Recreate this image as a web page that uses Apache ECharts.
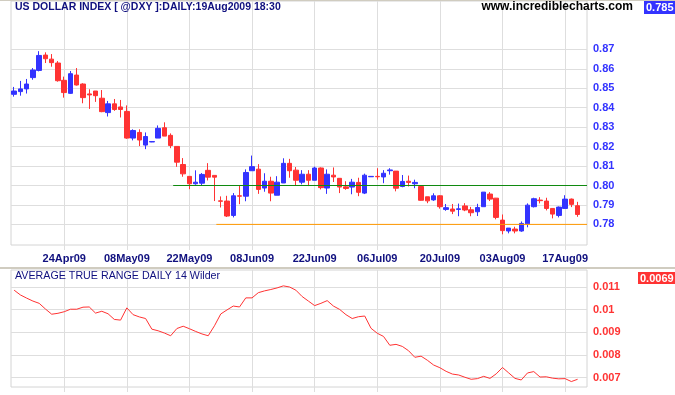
<!DOCTYPE html>
<html><head><meta charset="utf-8">
<script src="https://cdn.jsdelivr.net/npm/echarts@6/dist/echarts.min.js"></script>
<style>html,body{margin:0;padding:0;background:#fff}#c{width:675px;height:395px}</style>
</head><body><div id="c"></div>
<script>
// ---- data ----
const dates = ["14Apr09","15Apr09","16Apr09","17Apr09","20Apr09","21Apr09","22Apr09","23Apr09","24Apr09","27Apr09",
"28Apr09","29Apr09","30Apr09","01May09","04May09","05May09","06May09","07May09","08May09","11May09",
"12May09","13May09","14May09","15May09","18May09","19May09","20May09","21May09","22May09","26May09",
"27May09","28May09","29May09","01Jun09","02Jun09","03Jun09","04Jun09","05Jun09","08Jun09","09Jun09",
"10Jun09","11Jun09","12Jun09","15Jun09","16Jun09","17Jun09","18Jun09","19Jun09","22Jun09","23Jun09",
"24Jun09","25Jun09","26Jun09","29Jun09","30Jun09","01Jul09","02Jul09","03Jul09","06Jul09","07Jul09",
"08Jul09","09Jul09","10Jul09","13Jul09","14Jul09","15Jul09","16Jul09","17Jul09","20Jul09","21Jul09",
"22Jul09","23Jul09","24Jul09","27Jul09","28Jul09","29Jul09","30Jul09","31Jul09","03Aug09","04Aug09",
"05Aug09","06Aug09","07Aug09","10Aug09","11Aug09","12Aug09","13Aug09","14Aug09","17Aug09","18Aug09","19Aug09"];
const opens = [0.8469,0.8483,0.8497,0.8555,0.8592,0.8671,0.8650,0.8630,0.8541,0.8474,
0.8568,0.8522,0.8471,0.8486,0.8449,0.8375,0.8420,0.8404,0.8381,0.8244,
0.8273,0.8208,0.8224,0.8244,0.8297,0.8258,0.8201,0.8108,0.8047,0.8009,
0.8012,0.8078,0.8052,0.7921,0.7920,0.7846,0.7947,0.7945,0.8076,0.8084,
0.7987,0.8022,0.7950,0.8013,0.8114,0.8079,0.8017,0.8058,0.8027,0.8090,
0.7987,0.8053,0.8037,0.7993,0.7992,0.8016,0.7961,0.8045,0.8047,0.8044,
0.8076,0.8074,0.7995,0.8022,0.8009,0.7995,0.7942,0.7926,0.7947,0.7877,
0.7879,0.7877,0.7895,0.7875,0.7865,0.7891,0.7956,0.7935,0.7822,0.7766,
0.7776,0.7766,0.7803,0.7891,0.7925,0.7920,0.7882,0.7846,0.7882,0.7930,0.7896];
const closes = [0.8486,0.8497,0.8522,0.8594,0.8669,0.8652,0.8632,0.8539,0.8478,0.8575,
0.8517,0.8452,0.8466,0.8462,0.8380,0.8420,0.8391,0.8391,0.8244,0.8283,
0.8234,0.8252,0.8226,0.8294,0.8254,0.8206,0.8120,0.8060,0.8009,0.8017,
0.8057,0.8043,0.8043,0.7919,0.7843,0.7947,0.7945,0.8067,0.8097,0.7980,
0.8022,0.7961,0.8017,0.8114,0.8076,0.8027,0.8058,0.8027,0.8090,0.7989,
0.8058,0.8044,0.7992,0.7985,0.8017,0.7965,0.8053,0.8047,0.8045,0.8063,
0.8080,0.7986,0.8021,0.8016,0.8016,0.7924,0.7921,0.7947,0.7891,0.7886,
0.7868,0.7880,0.7874,0.7860,0.7887,0.7966,0.7930,0.7836,0.7768,0.7781,
0.7766,0.7805,0.7899,0.7932,0.7922,0.7882,0.7853,0.7889,0.7930,0.7903,0.7851];
const lows = [0.8457,0.8462,0.8473,0.8544,0.8587,0.8630,0.8611,0.8534,0.8452,0.8471,
0.8514,0.8423,0.8394,0.8430,0.8377,0.8355,0.8384,0.8350,0.8240,0.8232,
0.8203,0.8187,0.8223,0.8244,0.8254,0.8192,0.8096,0.8045,0.7981,0.8004,
0.7999,0.8026,0.7920,0.7887,0.7838,0.7836,0.7904,0.7919,0.8076,0.7957,
0.7968,0.7919,0.7950,0.8013,0.8040,0.7999,0.8006,0.7997,0.8027,0.7980,
0.7957,0.8018,0.7961,0.7978,0.7955,0.7945,0.7956,0.8044,0.8030,0.8012,
0.8056,0.7970,0.7991,0.7995,0.7986,0.7922,0.7909,0.7921,0.7881,0.7870,
0.7853,0.7842,0.7868,0.7842,0.7843,0.7891,0.7920,0.7826,0.7749,0.7754,
0.7754,0.7762,0.7785,0.7887,0.7908,0.7872,0.7831,0.7836,0.7882,0.7889,0.7839];
const highs = [0.8507,0.8538,0.8548,0.8604,0.8691,0.8685,0.8676,0.8640,0.8560,0.8589,
0.8604,0.8526,0.8495,0.8486,0.8491,0.8435,0.8445,0.8440,0.8412,0.8289,
0.8289,0.8273,0.8227,0.8309,0.8325,0.8268,0.8201,0.8141,0.8047,0.8078,
0.8064,0.8115,0.8052,0.7944,0.7947,0.7961,0.7999,0.8083,0.8154,0.8110,
0.8063,0.8045,0.8048,0.8140,0.8137,0.8095,0.8079,0.8079,0.8097,0.8093,
0.8083,0.8093,0.8037,0.8022,0.8034,0.8040,0.8061,0.8048,0.8089,0.8079,
0.8089,0.8074,0.8054,0.8051,0.8030,0.7997,0.7942,0.7960,0.7950,0.7905,
0.7905,0.7907,0.7909,0.7890,0.7906,0.7966,0.7966,0.7936,0.7851,0.7781,
0.7788,0.7815,0.7908,0.7937,0.7940,0.7937,0.7882,0.7892,0.7950,0.7933,0.7916];
const atr = [0.01086,0.01065,0.01051,0.01038,0.01028,0.01003,0.00980,0.00984,0.00991,0.01002,
0.01002,0.01011,0.01012,0.00985,0.00993,0.00982,0.00957,0.00954,0.01008,0.00978,
0.00968,0.00961,0.00914,0.00907,0.00897,0.00885,0.00917,0.00927,0.00916,0.00904,
0.00893,0.00885,0.00929,0.00981,0.00999,0.01016,0.01012,0.01052,0.01052,0.01075,
0.01083,0.01089,0.01096,0.01105,0.01100,0.01086,0.01058,0.01038,0.01018,0.01028,
0.01040,0.01016,0.01001,0.00978,0.00961,0.00969,0.00972,0.00918,0.00896,0.00882,
0.00843,0.00847,0.00838,0.00819,0.00790,0.00795,0.00777,0.00756,0.00744,0.00728,
0.00716,0.00712,0.00702,0.00693,0.00696,0.00706,0.00697,0.00717,0.00745,0.00721,
0.00697,0.00690,0.00721,0.00727,0.00703,0.00704,0.00698,0.00695,0.00696,0.00683,0.00693];
const dateLabels = ["24Apr09","08May09","22May09","08Jun09","22Jun09","06Jul09","20Jul09","03Aug09","17Aug09"];
const priceTicks = [0.78,0.79,0.80,0.81,0.82,0.83,0.84,0.85,0.86,0.87];
const atrTicks = [0.007,0.008,0.009,0.01,0.011];
const levelValues = [0.80, 0.78];
const levelStartIndex = [25.4, 32.3];

// ---- chart ----
const cats = dates.concat(['']);
const xEnd = cats.length - 0.5;
const candles = dates.map((d,i)=>[opens[i],closes[i],lows[i],highs[i]]);
const isLabel = (idx, val) => dateLabels.indexOf(val) >= 0;
const gridColor = '#dedede';
const FONT = '"Liberation Sans", Arial, sans-serif';
const BLUE = '#3333ff', RED = '#ff3333', NAVY = '#10107f';

function catAxis(gridIndex, showLabels) {
  return {
    type: 'category', gridIndex, data: cats, boundaryGap: true,
    axisLine: {show: false},
    axisTick: {show: true, interval: isLabel, alignWithLabel: true, length: 5, lineStyle: {color: gridColor}},
    splitLine: {show: true, interval: isLabel, alignWithLabel: true, lineStyle: {color: gridColor, width: 1}},
    axisLabel: {show: showLabels, interval: isLabel, margin: 8, color: NAVY, fontFamily: FONT, fontSize: 11, fontWeight: 'bold', hideOverlap: false}
  };
}

const chart = echarts.init(document.getElementById('c'), null, {renderer: 'canvas'});
chart.setOption({
  animation: false,
  backgroundColor: '#fff',
  grid: [
    {left: 11, right: 88, top: 1, height: 244, show: true, borderColor: '#d4d4d4', borderWidth: 1, backgroundColor: '#fff'},
    {left: 11, right: 88, top: 270, height: 117, show: true, borderColor: '#d4d4d4', borderWidth: 1, backgroundColor: '#fff'}
  ],
  xAxis: [
    catAxis(0, true),
    catAxis(1, false),
    {type: 'value', gridIndex: 0, min: -0.5, max: xEnd, show: false, splitLine: {show: false}}
  ],
  yAxis: [
    {type: 'value', gridIndex: 0, position: 'right', min: 0.7694, max: 0.8949, scale: true,
     axisLine: {show: false}, axisTick: {show: false, customValues: priceTicks},
     splitLine: {show: true, lineStyle: {color: gridColor}},
     axisLabel: {customValues: priceTicks, margin: 6, color: BLUE, fontFamily: FONT, fontSize: 11, fontWeight: 'bold',
       formatter: v => v.toFixed(2)}},
    {type: 'value', gridIndex: 1, position: 'right', min: 0.00659, max: 0.01175, scale: true,
     axisLine: {show: false}, axisTick: {show: false, customValues: atrTicks},
     splitLine: {show: true, lineStyle: {color: gridColor}},
     axisLabel: {customValues: atrTicks, margin: 6, color: RED, fontFamily: FONT, fontSize: 11, fontWeight: 'bold',
       formatter: v => String(+v.toFixed(4))}}
  ],
  series: [
    {type: 'candlestick', xAxisIndex: 0, yAxisIndex: 0, data: candles, barWidth: 5,
     itemStyle: {color: BLUE, color0: RED, borderColor: BLUE, borderColor0: RED, borderWidth: 1, borderColorDoji: BLUE}},
    {type: 'line', xAxisIndex: 2, yAxisIndex: 0, symbol: 'none', silent: true,
     data: [[levelStartIndex[0], levelValues[0]], [xEnd, levelValues[0]]], lineStyle: {color: '#108a10', width: 1}},
    {type: 'line', xAxisIndex: 2, yAxisIndex: 0, symbol: 'none', silent: true,
     data: [[levelStartIndex[1], levelValues[1]], [xEnd, levelValues[1]]], lineStyle: {color: '#ff9900', width: 1}},
    {type: 'line', xAxisIndex: 1, yAxisIndex: 1, symbol: 'none', data: atr, lineStyle: {color: RED, width: 1}}
  ],
  graphic: [
    {type: 'rect', left: 0, top: 0, shape: {width: 675, height: 1}, style: {fill: '#d0ccc0'}, z: 10},
    {type: 'rect', left: 0, top: 267, shape: {width: 675, height: 2}, style: {fill: '#d0ccc0'}, z: 10},
    {type: 'text', left: 15, top: 2, style: {text: 'US DOLLAR INDEX [ @DXY ]:DAILY:19Aug2009 18:30', fill: NAVY, font: 'bold 10.5px ' + FONT}, z: 10},
    {type: 'text', right: 42, top: 1, style: {text: 'www.incrediblecharts.com', fill: '#000', font: 'bold 12px ' + FONT}, z: 10},
    {type: 'rect', left: 644, top: 1, shape: {width: 31, height: 13}, style: {fill: BLUE}, z: 10},
    {type: 'text', left: 646, top: 2, style: {text: closes[closes.length-1].toFixed(3), fill: '#fff', font: 'bold 11px ' + FONT}, z: 11},
    {type: 'text', left: 15, top: 271, style: {text: 'AVERAGE TRUE RANGE DAILY 14 Wilder', fill: NAVY, font: '10.7px ' + FONT}, z: 10},
    {type: 'rect', left: 638, top: 272, shape: {width: 37, height: 12}, style: {fill: RED}, z: 10},
    {type: 'text', left: 640, top: 273, style: {text: atr[atr.length-1].toFixed(4), fill: '#fff', font: 'bold 11px ' + FONT}, z: 11}
  ]
});
</script></body></html>
